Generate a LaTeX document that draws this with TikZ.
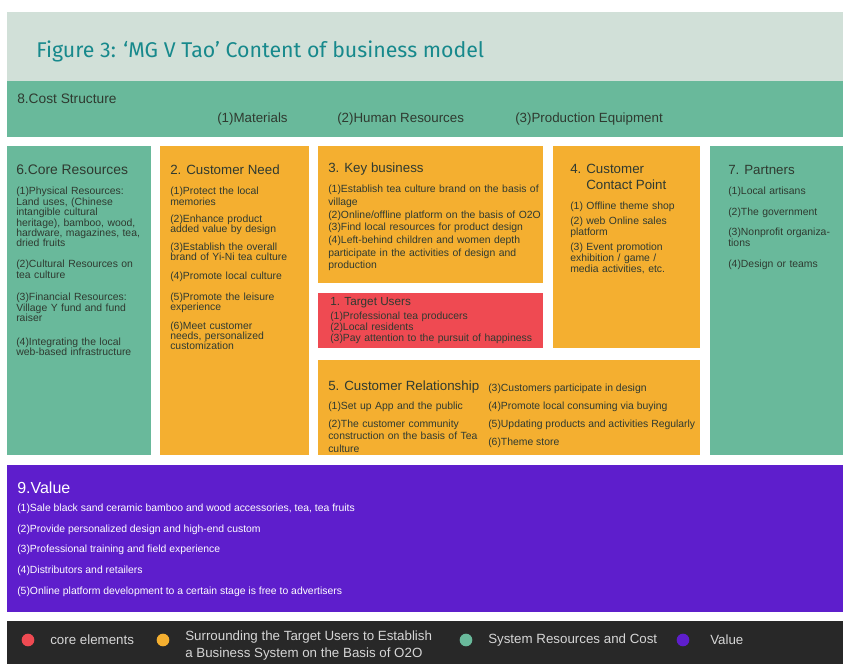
\documentclass[tikz,border=0pt]{standalone}
\usepackage{fontspec}
\setmainfont{Liberation Sans}
\newfontfamily\titlefont{Fira Sans}
\definecolor{titlebg}{HTML}{D1E0D8}
\definecolor{titlecol}{HTML}{17898C}
\definecolor{grn}{HTML}{69B99B}
\definecolor{org}{HTML}{F4AF30}
\definecolor{rd}{HTML}{EF4A52}
\definecolor{pur}{HTML}{5E1ECC}
\definecolor{dk}{HTML}{282828}
\definecolor{txt}{HTML}{2F3A30}
\definecolor{legtxt}{HTML}{D6D6D6}
\newcommand{\nohyph}{\hyphenpenalty=10000\relax}
\tikzset{
  head/.style={anchor=west, inner sep=0pt, font=\fontsize{10}{12}\selectfont, text=txt},
  body/.style={anchor=north west, inner sep=0pt, align=left, font=\fontsize{7.8}{7.8}\selectfont\nohyph, text=txt},
  item/.style={anchor=west, inner sep=0pt, font=\fontsize{7.8}{9}\selectfont, text=txt},
  legdot/.style={circle, inner sep=0pt, minimum size=9.5pt},
  legtext/.style={anchor=west, inner sep=0pt, align=left, font=\fontsize{10}{12.5}\selectfont, text=legtxt}
}
\begin{document}
\begin{tikzpicture}[x=0.75pt,y=-0.75pt]
\useasboundingbox (0,0) rectangle (843,664);
\fill[white] (0,0) rectangle (843,664);
% title
\fill[titlebg] (7,12) rectangle (843,81);
\node[anchor=base west, inner sep=0pt, font=\titlefont\fontsize{16}{18}\selectfont, text=titlecol] (title) at (36,57) {Figure 3: ‘MG V Tao’ Content of business model};
% cost structure
\fill[grn] (7,81) rectangle (843,137);
\node[head, font=\fontsize{10.3}{12}\selectfont] (costh) at (17,99) {8.Cost Structure};
\node[item, font=\fontsize{10}{12}\selectfont] (cost1) at (217,119) {(1)Materials};
\node[item, font=\fontsize{10}{12}\selectfont] (cost2) at (337,119) {(2)Human Resources};
\node[item, font=\fontsize{10}{12}\selectfont] (cost3) at (515,119) {(3)Production Equipment};
% blocks
\fill[grn] (7,146) rectangle (151,455);
\fill[org] (160,146) rectangle (309,455);
\fill[org] (318,146) rectangle (543,283);
\fill[rd] (318,293) rectangle (543,348);
\fill[org] (553,146) rectangle (700,348);
\fill[org] (318,360) rectangle (700,455);
\fill[grn] (710,146) rectangle (843,455);
\fill[pur] (7,465) rectangle (843,612);
\fill[dk] (7,621) rectangle (843,664);
% core resources
\node[head, font=\fontsize{10.4}{12}\selectfont] (coreh) at (16,170) {6.Core Resources};
\node[body, text width=96pt] (coreb) at (16,187) {(1)Physical Resources: Land uses, (Chinese intangible cultural heritage), bamboo, wood, hardware, magazines, tea, dried fruits\\[8pt]
(2)Cultural Resources on tea culture\\[9pt]
(3)Financial Resources: Village Y fund and fund raiser\\[10pt]
(4)Integrating the local web-based infrastructure};
% customer need
\node[head] (needh) at (170,170) {2. Customer Need};
\node[body, text width=90pt] (needb) at (170,187) {(1)Protect the local memories\\[5pt]
(2)Enhance product added value by design\\[5.5pt]
(3)Establish the overall brand of Yi-Ni tea culture\\[6.5pt]
(4)Promote local culture\\[7.5pt]
(5)Promote the leisure experience\\[6pt]
(6)Meet customer needs, personalized customization};
% key business
\node[head] (keyh) at (328,169) {3. Key business};
\node[body, text width=162pt, font=\fontsize{7.8}{9.5}\selectfont\nohyph] (keyb) at (328,185) {(1)Establish tea culture brand on the basis of village\\
(2)Online/offline platform on the basis of O2O\\
(3)Find local resources for product design\\
(4)Left-behind children and women depth participate in the activities of design and production};
% target users
\node[head, font=\fontsize{8.8}{10}\selectfont] (targh) at (330,303) {1. Target Users};
\node[body, text width=160pt, font=\fontsize{7.8}{8.2}\selectfont] (targb) at (330,312) {(1)Professional tea producers\\
(2)Local residents\\
(3)Pay attention to the pursuit of happiness};
% customer contact point
\node[head] (conth) at (570,169) {4. Customer};
\node[head] (conth2) at (586,185) {Contact Point};
\node[body, text width=84pt, font=\fontsize{7.8}{8.2}\selectfont\nohyph] (contb) at (570,202) {(1) Offline theme shop\\[3pt]
(2) web Online sales platform\\[3pt]
(3) Event promotion exhibition / game / media activities, etc.};
% partners
\node[head] (parth) at (728,170) {7. Partners};
\node[body, text width=88pt, font=\fontsize{7.8}{7.8}\selectfont] (partb) at (728,187) {(1)Local artisans\\[7.5pt]
(2)The government\\[7.5pt]
(3)Nonprofit organiza-tions\\[8pt]
(4)Design or teams};
% customer relationship
\node[head] (relh) at (328,387) {5. Customer Relationship};
\node[body, text width=118pt, font=\fontsize{7.8}{9.5}\selectfont\nohyph] (relb) at (328,402) {(1)Set up App and the public\\[3.5pt]
(2)The customer community construction on the basis of Tea culture};
\node[item] (rel3) at (488,389) {(3)Customers participate in design};
\node[item] (rel4) at (488,407) {(4)Promote local consuming via buying};
\node[item] (rel5) at (488,425) {(5)Updating products and activities Regularly};
\node[item] (rel6) at (488,443) {(6)Theme store};
% value
\node[head, text=white, font=\fontsize{12}{14}\selectfont] (valh) at (17,488) {9.Value};
\node[item, text=white] (val1) at (17,509) {(1)Sale black sand ceramic bamboo and wood accessories, tea, tea fruits};
\node[item, text=white] (val2) at (17,530) {(2)Provide personalized design and high-end custom};
\node[item, text=white] (val3) at (17,550) {(3)Professional training and field experience};
\node[item, text=white] (val4) at (17,571) {(4)Distributors and retailers};
\node[item, text=white] (val5) at (17,592) {(5)Online platform development to a certain stage is free to advertisers};
% legend
\node[legdot, fill=rd] (d1) at (28,640) {};
\node[legtext] (l1) at (50,640) {core elements};
\node[legdot, fill=org] (d2) at (163,640) {};
\node[legtext] (l2) at (185,645.5) {Surrounding the Target Users to Establish\\a Business System on the Basis of O2O};
\node[legdot, fill=grn] (d3) at (466,640) {};
\node[legtext] (l3) at (488,640) {System Resources and Cost};
\node[legdot, fill=pur] (d4) at (683,640) {};
\node[legtext] (l4) at (710,640) {Value};
\end{tikzpicture}
\end{document}
